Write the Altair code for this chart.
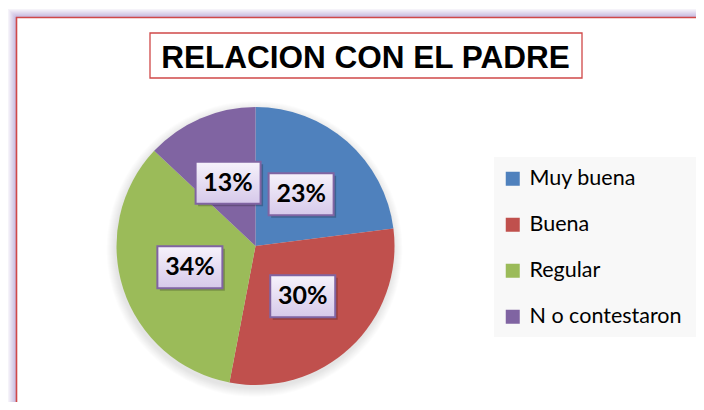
import altair as alt
import pandas as pd

categories = ["Muy buena", "Buena", "Regular", "N o contestaron"]
values = [23, 30, 34, 13]
labels = ["23%", "30%", "34%", "13%"]
colors = ["#4f81bd", "#c0504d", "#9bbb59", "#8064a2"]
title_text = "RELACION CON EL PADRE"

df = pd.DataFrame({"cat": categories, "val": values, "lab": labels, "idx": list(range(len(categories)))})
one = pd.DataFrame({"t": [title_text]})

W, H = 688, 394
CX, CY, R, LR = 247.5, 238, 139, 69

layers = []

# outer frame glow (purple) + red line
for k in range(1, 9):
    layers.append(
        alt.Chart(one).mark_rect(fillOpacity=0, stroke="#9a80c4", strokeWidth=1,
                                 strokeOpacity=0.6 * (1 - k / 9.5)).encode(
            x=alt.value(8.5 - k), x2=alt.value(W + 40), y=alt.value(9.5 - k), y2=alt.value(H + 40))
    )
layers.append(
    alt.Chart(one).mark_rect(fill="white", stroke="#d04848", strokeWidth=1.6).encode(
        x=alt.value(8.5), x2=alt.value(W + 40), y=alt.value(9.5), y2=alt.value(H + 40))
)

# soft shadow around the pie
for k in range(1, 10):
    layers.append(
        alt.Chart(one).mark_arc(radius=R + k, fill="#000000", opacity=0.012).encode(
            theta=alt.value(6.2832), x=alt.value(CX - 1), y=alt.value(CY + 3))
    )

# title box and text
layers.append(
    alt.Chart(one).mark_rect(fill="white", stroke="#d04848", strokeWidth=1.3).encode(
        x=alt.value(142), x2=alt.value(574), y=alt.value(25), y2=alt.value(70))
)
layers.append(
    alt.Chart(one).mark_text(font="Liberation Sans", fontWeight="bold", fontSize=31.5,
                             align="center", baseline="alphabetic", color="black").encode(
        text="t:N", x=alt.value(357.5), y=alt.value(59.5))
)

# legend background
layers.append(
    alt.Chart(one).mark_rect(fill="#f8f8f8").encode(
        x=alt.value(486), x2=alt.value(W + 20), y=alt.value(149), y2=alt.value(329))
)

color = alt.Color(
    "cat:N",
    scale=alt.Scale(domain=categories, range=colors),
    sort=categories,
    legend=alt.Legend(
        title=None, orient="none", legendX=494, legendY=160, padding=0,
        symbolType="square", symbolSize=196, symbolStrokeWidth=0,
        labelFont="Lato", labelFontSize=21.5, labelColor="black", labelOffset=6,
        rowPadding=23, labelLimit=300,
    ),
)

pie = alt.Chart(df).mark_arc(radius=R).encode(
    theta=alt.Theta("val:Q", stack=True),
    color=color,
    order=alt.Order("idx:Q"),
    x=alt.value(CX),
    y=alt.value(CY),
)
layers.append(pie)

lbl = (
    alt.Chart(df)
    .transform_window(cum="sum(val)", sort=[alt.SortField("idx")], frame=[None, 0])
    .transform_joinaggregate(tot="sum(val)")
    .transform_calculate(ang="2*PI*(datum.cum - datum.val/2)/datum.tot")
    .transform_calculate(lx=f"{CX} + {LR}*sin(datum.ang)")
    .transform_calculate(ly=f"{CY} - {LR}*cos(datum.ang)")
    .transform_calculate(bx1="datum.lx - 32.5", bx2="datum.lx + 32.5",
                         by1="datum.ly - 21", by2="datum.ly + 21")
    .transform_calculate(sx1="datum.bx1 + 2.5", sx2="datum.bx2 + 2.5",
                         sy1="datum.by1 + 2.5", sy2="datum.by2 + 2.5")
)

shadow = lbl.mark_rect(fill="#000000", opacity=0.22).encode(
    x=alt.X("sx1:Q", scale=None, axis=None), x2="sx2:Q",
    y=alt.Y("sy1:Q", scale=None, axis=None), y2="sy2:Q",
)
grad = alt.Gradient(
    gradient="linear",
    stops=[alt.GradientStop(color="#f6f2fb", offset=0), alt.GradientStop(color="#d6c9ea", offset=1)],
    x1=0, x2=0, y1=0, y2=1,
)
boxes = lbl.mark_rect(fill=grad, stroke="#8064a2", strokeWidth=2).encode(
    x=alt.X("bx1:Q", scale=None, axis=None), x2="bx2:Q",
    y=alt.Y("by1:Q", scale=None, axis=None), y2="by2:Q",
)
texts = lbl.mark_text(font="Lato", fontWeight="bold", fontSize=25, color="black",
                      align="center", baseline="middle").encode(
    x=alt.X("lx:Q", scale=None, axis=None),
    y=alt.Y("ly:Q", scale=None, axis=None),
    text="lab:N",
)
layers += [shadow, boxes, texts]

chart = (
    alt.layer(*layers)
    .properties(width=W, height=H, padding=0, autosize=alt.AutoSizeParams(type="none"), background="white")
    .configure_view(strokeWidth=0)
)

chart.save("out.html", embed_options={"renderer": "svg", "actions": False})
